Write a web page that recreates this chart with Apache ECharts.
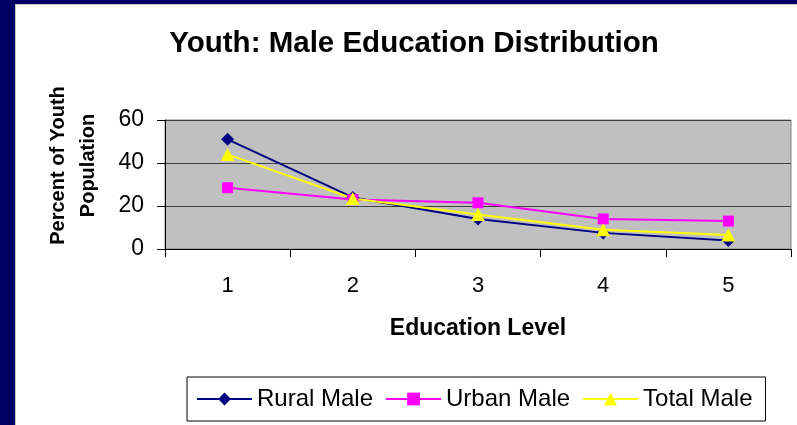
<!DOCTYPE html>
<html>
<head>
<meta charset="utf-8">
<script src="https://cdn.jsdelivr.net/npm/echarts@6/dist/echarts.min.js"></script>
<style>
  html, body { margin: 0; padding: 0; width: 797px; height: 425px; overflow: hidden; background: #ffffff; }
  #navyTop { position: absolute; left: 0; top: 0; width: 797px; height: 4px; background: #000066; }
  #navyLeft { position: absolute; left: 0; top: 0; width: 15px; height: 425px; background: #000066; }
  #lineTop { position: absolute; left: 15px; top: 4px; width: 782px; height: 1px; background: #c8c8c8; }
  #lineLeft { position: absolute; left: 15px; top: 4px; width: 1px; height: 421px; background: #c8c8c8; }
  #chart { position: absolute; left: 0; top: 0; width: 797px; height: 425px; }
</style>
</head>
<body>
<div id="navyTop"></div>
<div id="navyLeft"></div>
<div id="lineTop"></div>
<div id="lineLeft"></div>
<div id="chart"></div>
<script>
const categories = ['1', '2', '3', '4', '5'];
const ruralMale = [51, 24, 14, 7.5, 4];
const urbanMale = [28.5, 23, 21.5, 14, 13];
const totalMale = [44, 23.5, 16, 9, 6.5];
const yTicks = [0, 20, 40, 60];

const chart = echarts.init(document.getElementById('chart'), null, { renderer: 'canvas' });
const FONT = 'Liberation Sans, Arial, sans-serif';

const option = {
  animation: false,
  title: {
    text: 'Youth: Male Education Distribution',
    left: 409, top: 24, textAlign: 'center',
    textStyle: { fontFamily: FONT, fontWeight: 'bold', fontSize: 29.5, color: '#000' }
  },
  legend: {
    left: 187, top: 377,
    data: ['Rural Male', 'Urban Male', 'Total Male'],
    itemWidth: 55, itemHeight: 16, itemGap: 12,
    padding: [9, 13, 9, 9],
    borderColor: '#000', borderWidth: 1,
    textStyle: { fontFamily: FONT, fontSize: 24, color: '#000', lineHeight: 26 }
  },
  grid: {
    left: 165, right: 6, top: 120, bottom: 176,
    show: true, backgroundColor: '#C0C0C0', borderColor: '#808080', borderWidth: 1,
    containLabel: false
  },
  xAxis: {
    type: 'category', data: categories, boundaryGap: true,
    name: 'Education Level', nameLocation: 'middle', nameGap: 68,
    nameTextStyle: { fontFamily: FONT, fontWeight: 'bold', fontSize: 23, color: '#000' },
    axisLine: { lineStyle: { color: '#000', width: 1 } },
    axisTick: { show: true, alignWithLabel: false, length: 8, lineStyle: { color: '#000' } },
    axisLabel: { fontFamily: FONT, fontSize: 22, color: '#000', margin: 26 },
    splitLine: { show: false }
  },
  yAxis: {
    type: 'value', min: 0, max: 60, interval: 20,
    name: 'Percent of Youth\nPopulation', nameLocation: 'middle', nameGap: 62, nameRotate: 90,
    nameTextStyle: { fontFamily: FONT, fontWeight: 'bold', fontSize: 20, color: '#000', lineHeight: 30, padding: [0, 0, 0, 38] },
    axisLine: { show: true, lineStyle: { color: '#000', width: 1 } },
    axisTick: { show: true, length: 8, lineStyle: { color: '#000' } },
    axisLabel: { fontFamily: FONT, fontSize: 23, color: '#000', margin: 21 },
    splitLine: { show: true, lineStyle: { color: '#404040', width: 1 } }
  },
  series: [
    {
      name: 'Rural Male', type: 'line', data: ruralMale,
      symbol: 'diamond', symbolSize: 13,
      lineStyle: { color: '#000080', width: 2 },
      itemStyle: { color: '#000080' }
    },
    {
      name: 'Urban Male', type: 'line', data: urbanMale,
      symbol: 'rect', symbolSize: 11,
      lineStyle: { color: '#FF00FF', width: 2 },
      itemStyle: { color: '#FF00FF' }
    },
    {
      name: 'Total Male', type: 'line', data: totalMale,
      symbol: 'triangle', symbolSize: [14, 13],
      lineStyle: { color: '#FFFF00', width: 2 },
      itemStyle: { color: '#FFFF00' }
    }
  ]
};
chart.setOption(option);
</script>
</body>
</html>
